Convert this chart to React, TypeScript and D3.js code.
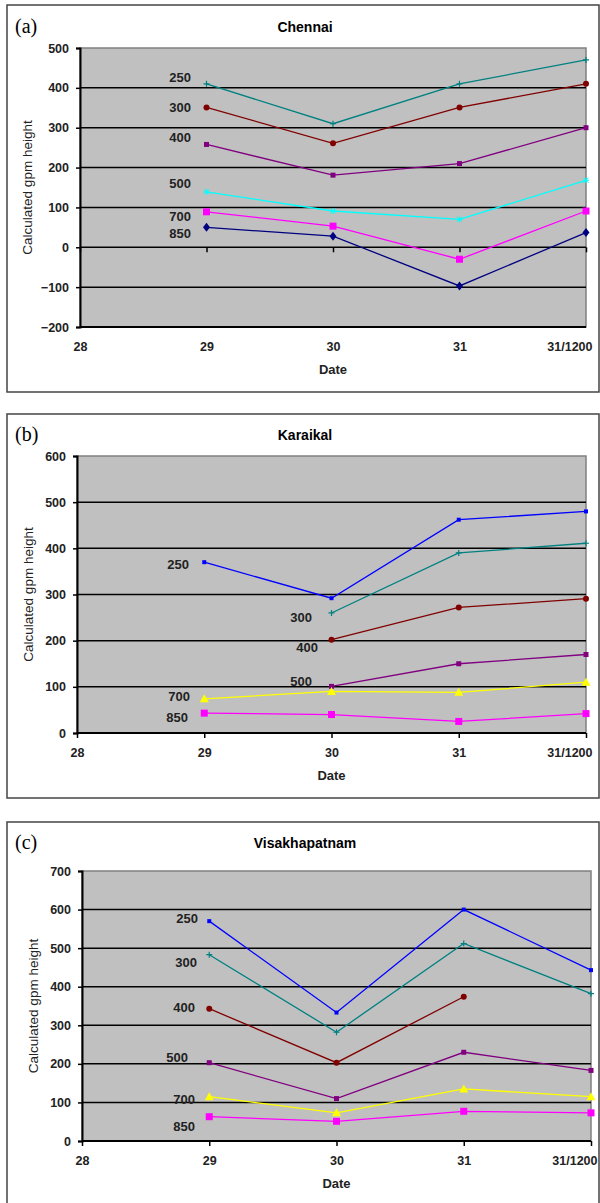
import React, { useRef, useEffect } from 'react';
import * as d3 from 'd3';

const dates = ['28', '29', '30', '31', '31/1200'];
const levels = ['250', '300', '400', '500', '700', '850'];

// Chennai, values per date (null = no observation)
const chennai250 = [null, 410, 310, 410, 470];
const chennai300 = [null, 351, 261, 351, 410];
const chennai400 = [null, 258, 181, 210, 300];
const chennai500 = [null, 139, 91, 70, 168];
const chennai700 = [null, 89, 53, -30, 91];
const chennai850 = [null, 50, 28, -97, 37];

// Karaikal
const karaikal250 = [null, 370, 292, 462, 480];
const karaikal300 = [null, null, 260, 390, 411];
const karaikal400 = [null, null, 202, 272, 291];
const karaikal500 = [null, null, 101, 150, 170];
const karaikal700 = [null, 74, 90, 88, 110];
const karaikal850 = [null, 43, 40, 25, 42];

// Visakhapatnam
const visakha250 = [null, 570, 333, 600, 443];
const visakha300 = [null, 483, 282, 512, 382];
const visakha400 = [null, 343, 203, 374, null];
const visakha500 = [null, 203, 110, 230, 183];
const visakha700 = [null, 115, 73, 135, 115];
const visakha850 = [null, 63, 51, 77, 73];

const chennaiTicks = [-200, -100, 0, 100, 200, 300, 400, 500];
const karaikalTicks = [0, 100, 200, 300, 400, 500, 600];
const visakhaTicks = [0, 100, 200, 300, 400, 500, 600, 700];

// excel-ish series styles
const styleA = [
    { color: '#008080', marker: 'plus' },
    { color: '#800000', marker: 'circle' },
    { color: '#800080', marker: 'smallsquare' },
    { color: '#00ffff', marker: 'star' },
    { color: '#ff00ff', marker: 'square' },
    { color: '#000080', marker: 'diamond' },
];
const styleBC = [
    { color: '#0000ff', marker: 'dot' },
    { color: '#008080', marker: 'plus' },
    { color: '#800000', marker: 'circle' },
    { color: '#800080', marker: 'smallsquare' },
    { color: '#ffff00', marker: 'triangle' },
    { color: '#ff00ff', marker: 'square' },
];

const panels = [
    {
        tag: '(a)', title: 'Chennai',
        series: [chennai250, chennai300, chennai400, chennai500, chennai700, chennai850],
        ticks: chennaiTicks, styles: styleA,
        box: [7, 5, 592, 387], left: 80, right: 586, top: 48, bottom: 327,
        titleY: 27, yTitleX: 27,
        labels: [[191, 77], [191, 107], [191, 137], [191, 183], [191, 216], [191, 233]],
    },
    {
        tag: '(b)', title: 'Karaikal',
        series: [karaikal250, karaikal300, karaikal400, karaikal500, karaikal700, karaikal850],
        ticks: karaikalTicks, styles: styleBC,
        box: [7, 414, 592, 384], left: 77, right: 586, top: 456, bottom: 733,
        titleY: 435, yTitleX: 28,
        labels: [[189, 564], [312, 617], [318, 647], [312, 681], [190, 696], [188, 717]],
    },
    {
        tag: '(c)', title: 'Visakhapatnam',
        series: [visakha250, visakha300, visakha400, visakha500, visakha700, visakha850],
        ticks: visakhaTicks, styles: styleBC,
        box: [7, 822, 592, 390], left: 82, right: 591, top: 871, bottom: 1141,
        titleY: 843, yTitleX: 33,
        labels: [[198, 918], [197, 962], [195, 1007], [188, 1057], [195, 1099], [195, 1126]],
    },
];

const font = 'Liberation Sans, Arial, sans-serif';

function drawMarker(g, kind, color, x, y) {
    if (kind === 'circle') {
        g.append('circle').attr('cx', x).attr('cy', y).attr('r', 3).attr('fill', color);
    } else if (kind === 'square') {
        g.append('rect').attr('x', x - 3.5).attr('y', y - 3.5).attr('width', 7).attr('height', 7).attr('fill', color);
    } else if (kind === 'smallsquare') {
        g.append('rect').attr('x', x - 2.5).attr('y', y - 2.5).attr('width', 5).attr('height', 5).attr('fill', color);
    } else if (kind === 'dot') {
        g.append('rect').attr('x', x - 2).attr('y', y - 2).attr('width', 4).attr('height', 4).attr('fill', color);
    } else if (kind === 'diamond') {
        g.append('path').attr('d', `M${x},${y - 4.5}L${x + 3.5},${y}L${x},${y + 4.5}L${x - 3.5},${y}Z`).attr('fill', color);
    } else if (kind === 'triangle') {
        g.append('path').attr('d', `M${x},${y - 4.5}L${x + 4.5},${y + 3.5}L${x - 4.5},${y + 3.5}Z`).attr('fill', color);
    } else if (kind === 'plus') {
        g.append('path').attr('d', `M${x - 3},${y}H${x + 3}M${x},${y - 3}V${y + 3}`).attr('stroke', color).attr('stroke-width', 1.2);
    } else if (kind === 'star') {
        g.append('path').attr('d', `M${x - 3},${y}H${x + 3}M${x},${y - 3}V${y + 3}M${x - 2.5},${y - 2.5}L${x + 2.5},${y + 2.5}M${x - 2.5},${y + 2.5}L${x + 2.5},${y - 2.5}`)
            .attr('stroke', color).attr('stroke-width', 1);
    }
}

function drawPanel(svg, p) {
    const x = d3.scalePoint().domain(dates).range([p.left, p.right]).padding(0);
    const y = d3.scaleLinear().domain(d3.extent(p.ticks)).range([p.bottom, p.top]);

    svg.append('rect')
        .attr('x', p.box[0]).attr('y', p.box[1])
        .attr('width', p.box[2]).attr('height', p.box[3])
        .attr('fill', 'white').attr('stroke', '#444').attr('stroke-width', 1.5);

    svg.append('text').attr('x', 15).attr('y', p.titleY + 6)
        .style('font-family', 'Liberation Serif, Times New Roman, serif').style('font-size', '20px')
        .text(p.tag);

    svg.append('text').attr('x', 305).attr('y', p.titleY + 5)
        .attr('text-anchor', 'middle')
        .style('font-family', font).style('font-size', '14px').style('font-weight', 'bold')
        .text(p.title);

    // plot area
    svg.append('rect')
        .attr('x', p.left).attr('y', p.top)
        .attr('width', p.right - p.left).attr('height', p.bottom - p.top)
        .attr('fill', '#c0c0c0').attr('stroke', '#808080').attr('stroke-width', 1.5);

    // gridlines
    svg.append('g').selectAll('line')
        .data(p.ticks.filter(t => t !== p.ticks[0] && t !== p.ticks[p.ticks.length - 1]))
        .enter().append('line')
        .attr('x1', p.left).attr('x2', p.right)
        .attr('y1', d => y(d)).attr('y2', d => y(d))
        .attr('stroke', '#000').attr('stroke-width', 1.5);

    const yAxis = d3.axisLeft(y).tickValues(p.ticks).tickSize(4).tickPadding(7).tickFormat(d3.format('d'));
    const ya = svg.append('g').attr('transform', `translate(${p.left},0)`).call(yAxis);
    ya.select('.domain').attr('stroke', '#000').attr('stroke-width', 2);
    ya.selectAll('.tick line').attr('stroke', '#000').attr('stroke-width', 1.5);
    ya.selectAll('text').style('font-family', font).style('font-size', '12.5px').style('font-weight', 'bold').attr('fill', '#222');

    const zeroY = p.ticks[0] < 0 ? y(0) : p.bottom;
    const xAxis = d3.axisBottom(x).tickSize(5).tickPadding(10);
    const xa = svg.append('g').attr('transform', `translate(0,${p.bottom})`).call(xAxis);
    xa.select('.domain').attr('stroke', '#000').attr('stroke-width', 2).attr('d', `M${p.left},0H${p.right}`);
    xa.selectAll('.tick line').attr('stroke', '#000').attr('stroke-width', 1.5)
        .attr('transform', `translate(0,${zeroY - p.bottom})`);
    xa.selectAll('text').style('font-family', font).style('font-size', '12.5px').style('font-weight', 'bold').attr('fill', '#222');
    xa.selectAll('.tick').filter(d => d === '31/1200').select('text')
        .attr('text-anchor', 'end').attr('x', 6);

    svg.append('text')
        .attr('x', (p.left + p.right) / 2).attr('y', p.bottom + 47)
        .attr('text-anchor', 'middle')
        .style('font-family', font).style('font-size', '13px').style('font-weight', 'bold').attr('fill', '#222')
        .text('Date');

    svg.append('text')
        .attr('transform', `translate(${p.yTitleX + 5},${(p.top + p.bottom) / 2}) rotate(-90)`)
        .attr('text-anchor', 'middle')
        .style('font-family', font).style('font-size', '13.5px').attr('fill', '#222')
        .text('Calculated gpm height');

    const line = d3.line()
        .defined(d => d.v !== null)
        .x(d => x(d.date))
        .y(d => y(d.v));

    p.series.forEach((vals, i) => {
        const st = p.styles[i];
        const pts = vals.map((v, j) => ({ date: dates[j], v }));
        svg.append('path').datum(pts)
            .attr('d', line).attr('fill', 'none')
            .attr('stroke', st.color).attr('stroke-width', 1.3);
        const g = svg.append('g');
        pts.filter(d => d.v !== null).forEach(d => drawMarker(g, st.marker, st.color, x(d.date), y(d.v)));

        svg.append('text')
            .attr('x', p.labels[i][0]).attr('y', p.labels[i][1])
            .attr('dy', '0.35em').attr('text-anchor', 'end')
            .style('font-family', font).style('font-size', '13px').style('font-weight', 'bold').attr('fill', '#222')
            .text(levels[i]);
    });
}

const App = () => {
    const ref = useRef(null);

    useEffect(() => {
        const svg = d3.select(ref.current);
        svg.selectAll('*').remove();
        panels.forEach(p => drawPanel(svg, p));
    }, []);

    return (
        <svg ref={ref} width={600} height={1203}
            style={{ position: 'absolute', left: 0, top: 0, background: 'white' }} />
    );
};

export default App;
